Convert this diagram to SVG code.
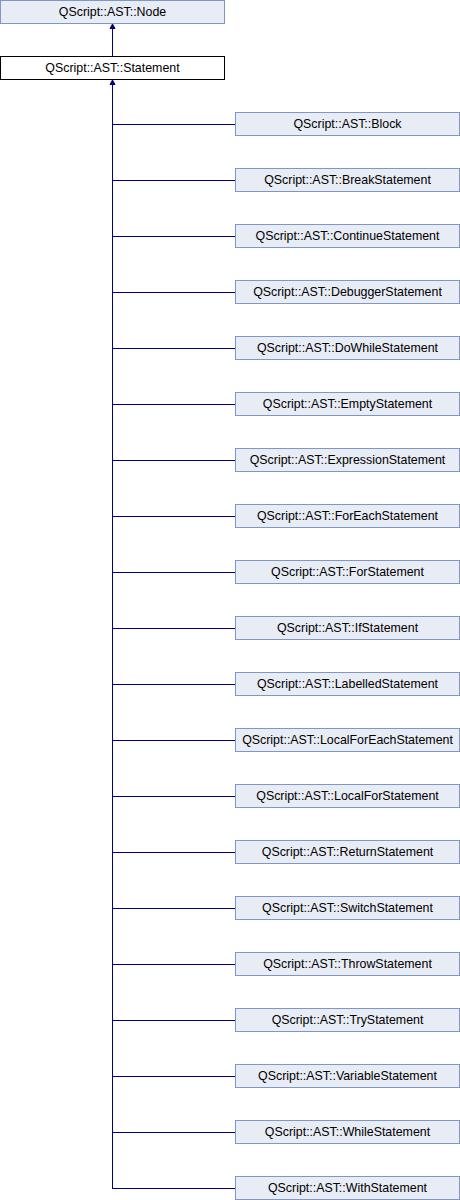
<svg xmlns="http://www.w3.org/2000/svg" width="460" height="1200" viewBox="0 0 460 1200">
<style>
.bg{fill:#ffffff}
.node rect{fill:#e8ecf5;stroke:#7f96c9;stroke-width:1}
.cur rect{fill:#ffffff;stroke:#000000;stroke-width:1}
text{font-family:"Liberation Sans",Arial,sans-serif;font-size:12.4px;text-anchor:middle;fill:#000000}
.edges line{stroke:#000080;stroke-width:1;fill:none}
.edges polygon{fill:#000080;stroke:#000080;stroke-width:1}
</style>
<rect class="bg" x="0" y="0" width="460" height="1200"/>
<g class="edges" id="connectors">
<line x1="112.5" y1="28" x2="112.5" y2="56"/>
<polygon points="112.5,24 110,28.5 115,28.5"/>
<line x1="112.5" y1="84" x2="112.5" y2="1188.5"/>
<polygon points="112.5,80 110,84.5 115,84.5"/>
<line x1="112" y1="124.5" x2="235" y2="124.5"/>
<line x1="112" y1="180.5" x2="235" y2="180.5"/>
<line x1="112" y1="236.5" x2="235" y2="236.5"/>
<line x1="112" y1="292.5" x2="235" y2="292.5"/>
<line x1="112" y1="348.5" x2="235" y2="348.5"/>
<line x1="112" y1="404.5" x2="235" y2="404.5"/>
<line x1="112" y1="460.5" x2="235" y2="460.5"/>
<line x1="112" y1="516.5" x2="235" y2="516.5"/>
<line x1="112" y1="572.5" x2="235" y2="572.5"/>
<line x1="112" y1="628.5" x2="235" y2="628.5"/>
<line x1="112" y1="684.5" x2="235" y2="684.5"/>
<line x1="112" y1="740.5" x2="235" y2="740.5"/>
<line x1="112" y1="796.5" x2="235" y2="796.5"/>
<line x1="112" y1="852.5" x2="235" y2="852.5"/>
<line x1="112" y1="908.5" x2="235" y2="908.5"/>
<line x1="112" y1="964.5" x2="235" y2="964.5"/>
<line x1="112" y1="1020.5" x2="235" y2="1020.5"/>
<line x1="112" y1="1076.5" x2="235" y2="1076.5"/>
<line x1="112" y1="1132.5" x2="235" y2="1132.5"/>
<line x1="112" y1="1188.5" x2="235" y2="1188.5"/>
</g>
<g class="node" id="node-Node"><rect x="0.5" y="0.5" width="224" height="23"/><text x="112.5" y="16">QScript::AST::Node</text></g>
<g class="cur" id="node-Statement"><rect x="0.5" y="56.5" width="224" height="23"/><text x="112.5" y="72">QScript::AST::Statement</text></g>
<g class="node" id="node-Block"><rect x="235.5" y="112.5" width="224" height="23"/><text x="347.5" y="128">QScript::AST::Block</text></g>
<g class="node" id="node-BreakStatement"><rect x="235.5" y="168.5" width="224" height="23"/><text x="347.5" y="184">QScript::AST::BreakStatement</text></g>
<g class="node" id="node-ContinueStatement"><rect x="235.5" y="224.5" width="224" height="23"/><text x="347.5" y="240">QScript::AST::ContinueStatement</text></g>
<g class="node" id="node-DebuggerStatement"><rect x="235.5" y="280.5" width="224" height="23"/><text x="347.5" y="296">QScript::AST::DebuggerStatement</text></g>
<g class="node" id="node-DoWhileStatement"><rect x="235.5" y="336.5" width="224" height="23"/><text x="347.5" y="352">QScript::AST::DoWhileStatement</text></g>
<g class="node" id="node-EmptyStatement"><rect x="235.5" y="392.5" width="224" height="23"/><text x="347.5" y="408">QScript::AST::EmptyStatement</text></g>
<g class="node" id="node-ExpressionStatement"><rect x="235.5" y="448.5" width="224" height="23"/><text x="347.5" y="464">QScript::AST::ExpressionStatement</text></g>
<g class="node" id="node-ForEachStatement"><rect x="235.5" y="504.5" width="224" height="23"/><text x="347.5" y="520">QScript::AST::ForEachStatement</text></g>
<g class="node" id="node-ForStatement"><rect x="235.5" y="560.5" width="224" height="23"/><text x="347.5" y="576">QScript::AST::ForStatement</text></g>
<g class="node" id="node-IfStatement"><rect x="235.5" y="616.5" width="224" height="23"/><text x="347.5" y="632">QScript::AST::IfStatement</text></g>
<g class="node" id="node-LabelledStatement"><rect x="235.5" y="672.5" width="224" height="23"/><text x="347.5" y="688">QScript::AST::LabelledStatement</text></g>
<g class="node" id="node-LocalForEachStatement"><rect x="235.5" y="728.5" width="224" height="23"/><text x="347.5" y="744">QScript::AST::LocalForEachStatement</text></g>
<g class="node" id="node-LocalForStatement"><rect x="235.5" y="784.5" width="224" height="23"/><text x="347.5" y="800">QScript::AST::LocalForStatement</text></g>
<g class="node" id="node-ReturnStatement"><rect x="235.5" y="840.5" width="224" height="23"/><text x="347.5" y="856">QScript::AST::ReturnStatement</text></g>
<g class="node" id="node-SwitchStatement"><rect x="235.5" y="896.5" width="224" height="23"/><text x="347.5" y="912">QScript::AST::SwitchStatement</text></g>
<g class="node" id="node-ThrowStatement"><rect x="235.5" y="952.5" width="224" height="23"/><text x="347.5" y="968">QScript::AST::ThrowStatement</text></g>
<g class="node" id="node-TryStatement"><rect x="235.5" y="1008.5" width="224" height="23"/><text x="347.5" y="1024">QScript::AST::TryStatement</text></g>
<g class="node" id="node-VariableStatement"><rect x="235.5" y="1064.5" width="224" height="23"/><text x="347.5" y="1080">QScript::AST::VariableStatement</text></g>
<g class="node" id="node-WhileStatement"><rect x="235.5" y="1120.5" width="224" height="23"/><text x="347.5" y="1136">QScript::AST::WhileStatement</text></g>
<g class="node" id="node-WithStatement"><rect x="235.5" y="1176.5" width="224" height="23"/><text x="347.5" y="1192">QScript::AST::WithStatement</text></g>
</svg>
